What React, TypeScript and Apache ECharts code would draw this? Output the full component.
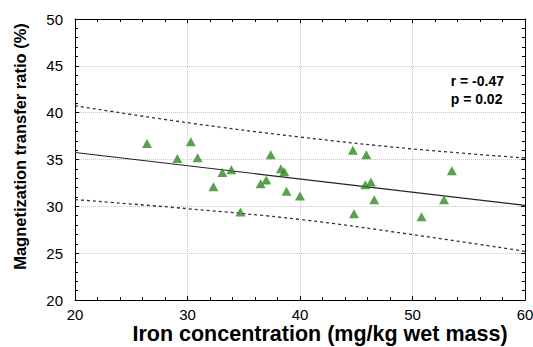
import React, { useEffect, useRef } from "react";
import * as echarts from "echarts";

const ironX = [26.4, 29.1, 30.3, 30.9, 32.3, 33.1, 33.9, 34.7, 36.5, 37.0, 37.4, 38.3, 38.6, 38.8, 40.0, 44.7, 44.8, 45.8, 45.9, 46.3, 46.6, 50.8, 52.8, 53.5];
const mtrY = [36.7, 35.1, 36.9, 35.2, 32.1, 33.6, 33.9, 29.4, 32.4, 32.8, 35.5, 34.0, 33.7, 31.6, 31.1, 36.0, 29.2, 32.3, 35.5, 32.6, 30.7, 28.9, 30.7, 33.8];

const fitX = [20, 60];
const fitY = [35.75, 30.1];

const bandX = [20, 30, 40, 50, 60];
const bandUpper = [40.74, 38.93, 37.4, 36.13, 35.16];
const bandLower = [30.72, 29.75, 28.6, 26.98, 25.2];

const statLines = ["r = -0.47", "p = 0.02"];
const xTitle = "Iron concentration (mg/kg wet mass)";
const yTitle = "Magnetization transfer ratio (%)";

const FONT = "'Liberation Sans', Arial, sans-serif";

export default function App() {
  const ref = useRef<HTMLDivElement>(null);
  useEffect(() => {
    if (!ref.current) return;
    const chart = echarts.init(ref.current, null, { renderer: "svg" });
    const axisCommon = {
      type: "value" as const,
      axisLine: { show: true, onZero: false, lineStyle: { color: "#000", width: 1 } },
      axisTick: { show: true, inside: true, length: 4, lineStyle: { color: "#000" } },
      minorTick: { show: true, splitNumber: 5, length: 3, lineStyle: { color: "#000" } },
    };
    const option = {
      animation: false,
      backgroundColor: "#fff",
      grid: { left: 75, right: 8, top: 19, bottom: 47, containLabel: false, outerBoundsMode: "none" },
      xAxis: [
        {
          ...axisCommon,
          min: 20,
          max: 60,
          interval: 10,
          position: "bottom",
          axisLabel: { fontFamily: FONT, fontSize: 15, color: "#000", margin: 7 },
          splitLine: { show: true, lineStyle: { color: "#c8c8c8", type: "dotted", width: 1 } },
        },
        {
          ...axisCommon,
          min: 20,
          max: 60,
          interval: 10,
          position: "top",
          axisLabel: { show: false },
          splitLine: { show: false },
        },
      ],
      yAxis: [
        {
          ...axisCommon,
          min: 20,
          max: 50,
          interval: 5,
          position: "left",
          axisLabel: { fontFamily: FONT, fontSize: 15, color: "#000", margin: 12 },
          splitLine: { show: true, lineStyle: { color: "#c8c8c8", type: "dotted", width: 1 } },
          name: yTitle,
          nameLocation: "middle",
          nameGap: 47,
          nameMoveOverlap: false,
          nameTextStyle: { fontFamily: FONT, fontSize: 16.5, fontWeight: "bold", color: "#000", padding: [0, 0, 0, 26] },
        },
        {
          ...axisCommon,
          min: 20,
          max: 50,
          interval: 5,
          position: "right",
          axisLabel: { show: false },
          splitLine: { show: false },
        },
      ],
      series: [
        {
          type: "line",
          data: bandX.map((x, i) => [x, bandUpper[i]]),
          smooth: 0.4,
          showSymbol: false,
          lineStyle: { color: "#333", width: 1.3, type: [3, 3] },
          z: 2,
        },
        {
          type: "line",
          data: bandX.map((x, i) => [x, bandLower[i]]),
          smooth: 0.4,
          showSymbol: false,
          lineStyle: { color: "#333", width: 1.3, type: [3, 3] },
          z: 2,
        },
        {
          type: "line",
          data: fitX.map((x, i) => [x, fitY[i]]),
          showSymbol: false,
          lineStyle: { color: "#222", width: 1.2 },
          z: 3,
        },
        {
          type: "scatter",
          data: ironX.map((x, i) => [x, mtrY[i]]),
          symbol: "triangle",
          symbolSize: [10, 9],
          itemStyle: { color: "#2f8a1f" },
          z: 4,
        },
      ],
      graphic: [
        {
          type: "text",
          right: 29,
          top: 72,
          style: {
            text: statLines.join("\n"),
            font: `bold 14px ${FONT}`,
            fill: "#000",
            align: "right",
            lineHeight: 18,
          },
        },
        {
          type: "text",
          x: 320,
          y: 334,
          style: {
            text: xTitle,
            font: `bold 21.5px ${FONT}`,
            lineHeight: 22,
            fill: "#000",
            align: "center",
            verticalAlign: "middle",
          },
        },
      ],
    };
    chart.setOption(option as any);
    return () => chart.dispose();
  }, []);
  return (
    <div
      ref={ref}
      style={{ position: "fixed", left: 0, top: 0, width: 533, height: 347 }}
    />
  );
}
